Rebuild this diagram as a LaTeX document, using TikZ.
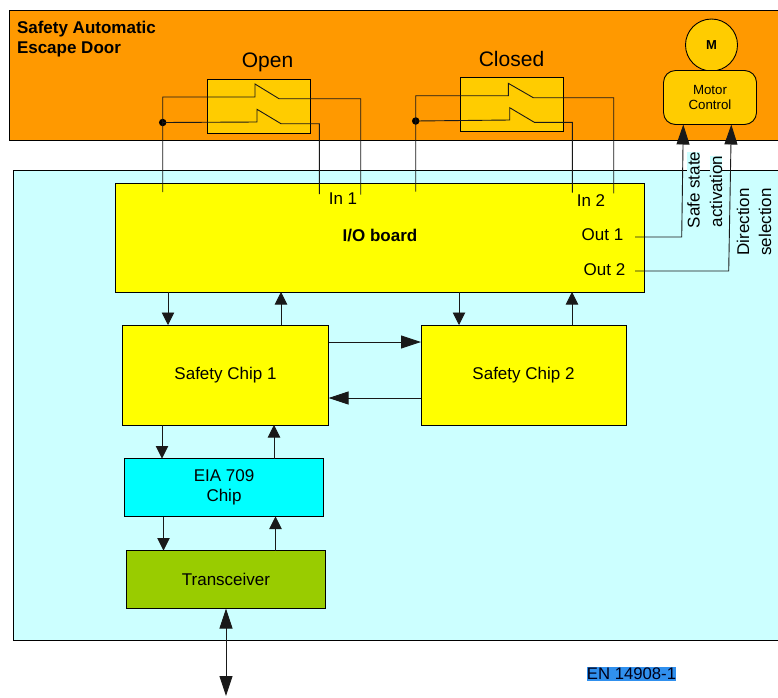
\documentclass[tikz,border=0pt]{standalone}
\usepackage{fontspec}
\setmainfont{Liberation Sans}
\usetikzlibrary{arrows.meta,calc}
\definecolor{doororange}{HTML}{FF9900}
\definecolor{panelcyan}{HTML}{CCFFFF}
\definecolor{switchfill}{HTML}{FFCC00}
\definecolor{chipcyan}{HTML}{00FFFF}
\definecolor{chipyellow}{HTML}{FFFF00}
\definecolor{trgreen}{HTML}{99CC00}
\definecolor{hlblue}{HTML}{3090EE}
\tikzset{
  blockbox/.style={draw=black,line width=0.9pt,inner sep=0pt,outer sep=0pt,align=center,font=\fontsize{17}{20}\selectfont},
  switchbox/.style={blockbox,fill=switchfill,minimum width=103pt,minimum height=54pt},
  plainlabel/.style={inner sep=0pt,outer sep=0pt,align=center,font=\fontsize{17}{20}\selectfont},
  ruled/.style={plainlabel,rotate=90},
  wire/.style={line width=0.9pt,draw=black!90},
  sig/.style={line width=0.9pt,draw=black!90,-{Triangle[length=12.5pt,width=12.5pt]}},
  bigsig/.style={line width=0.9pt,draw=black!90,-{Triangle[length=20pt,width=13pt]}},
  bigboth/.style={line width=0.9pt,draw=black!90,{Triangle[length=20pt,width=13pt]}-{Triangle[length=20pt,width=13pt]}},
  dot/.style={circle,fill=black,inner sep=0pt,minimum size=7.5pt}
}
\begin{document}
\begin{tikzpicture}[x=1pt,y=-1pt]
\useasboundingbox (0,0) rectangle (778,697);
% backgrounds
\node[blockbox,fill=doororange,minimum width=790pt,minimum height=130pt,anchor=north west] (door) at (9,10) {};
\node[blockbox,fill=panelcyan,minimum width=780pt,minimum height=470pt,anchor=north west] (panel) at (13,170) {};
\node[plainlabel,anchor=north west,font=\fontsize{17}{20.5}\selectfont\bfseries,align=left] (title) at (17,21) {Safety Automatic\\Escape Door};
% switches
\node[switchbox,anchor=north west] (swopen) at (207,79) {};
\node[switchbox,anchor=north west] (swclosed) at (460,77) {};
\node[plainlabel,font=\fontsize{21}{24}\selectfont] (openlbl) at (267.5,62) {Open};
\node[plainlabel,font=\fontsize{21}{24}\selectfont] (closedlbl) at (511.5,59) {Closed};
% motor
\node[circle,draw=black,line width=0.9pt,fill=switchfill,minimum size=52pt,inner sep=0pt,font=\fontsize{13}{15}\selectfont\bfseries] (motor) at (711.5,45) {M};
\node[blockbox,fill=switchfill,rounded corners=12pt,minimum width=93pt,minimum height=54pt,anchor=north west,font=\fontsize{13.3}{15.5}\selectfont] (mctl) at (663.5,70.5) {Motor\\Control};
% main blocks
\node[blockbox,fill=chipyellow,minimum width=529pt,minimum height=109pt,anchor=north west] (io) at (115.5,183) {};
\node[plainlabel,font=\fontsize{17}{20}\selectfont\bfseries] (iolbl) at (380,236) {I/O board};
\node[blockbox,fill=chipyellow,minimum width=206pt,minimum height=100pt,anchor=north west] (chipa) at (122.5,325) {Safety Chip 1};
\node[blockbox,fill=chipyellow,minimum width=205pt,minimum height=100pt,anchor=north west] (chipb) at (421,325) {Safety Chip 2};
\node[blockbox,fill=chipcyan,minimum width=199pt,minimum height=58pt,anchor=north west] (eia) at (124.5,458.5) {EIA 709\\Chip};
\node[blockbox,fill=trgreen,minimum width=199pt,minimum height=58pt,anchor=north west] (trans) at (126.5,550.5) {Transceiver};
% io labels
\node[plainlabel] (inone) at (343,198.5) {In 1};
\node[plainlabel] (intwo) at (591,200.5) {In 2};
\node[plainlabel] (outone) at (602.5,234.5) {Out 1};
\node[plainlabel] (outtwo) at (604.5,270) {Out 2};
% free wire ends
\coordinate (oa) at (162.7,192);
\coordinate (ob) at (319.3,194);
\coordinate (oc) at (360.7,194.7);
\coordinate (ca) at (415.7,191.7);
\coordinate (cb) at (572.3,192.7);
\coordinate (cc) at (613.7,193.3);
\node[dot] (dotopen) at (162.7,122.5) {};
\node[dot] (dotclosed) at (415.7,121) {};
% open switch wiring
\draw[wire] (oa) -- (162.7,97) -- (255,97) -- (255,84) -- (279,98.7) -- (360.7,98.7) -- (oc);
\draw[wire] (dotopen.center) -- (257,122) -- (257,109.3) -- (281,123.7) -- (319.3,123.7) -- (ob);
% closed switch wiring
\draw[wire] (ca) -- (415.7,95.7) -- (508.3,95.7) -- (508.3,83.3) -- (533.3,97.7) -- (613.7,97.7) -- (cc);
\draw[wire] (dotclosed.center) -- (509.7,120) -- (509.7,107.7) -- (534.3,122.3) -- (572.3,122.3) -- (cb);
% rotated labels
\node[ruled,fill=panelcyan] (safe) at (693.5,190) {Safe state};
\node[ruled,fill=panelcyan] (activ) at (716,191.5) {activation};
\node[ruled] (dirn) at (743,222) {Direction};
\node[ruled] (selec) at (765,222) {selection};
% outputs
\coordinate (oo) at (635,237);
\coordinate (ot) at (635,271);
\draw[bigsig] (oo) -- (681.7,237) -- (683.3,124.5);
\draw[bigsig] (ot) -- (728.7,271) -- (731.3,124.5);
% vertical signals
\coordinate (xa) at (168,0); \coordinate (xb) at (281,0);
\coordinate (xc) at (459,0); \coordinate (xd) at (572,0);
\coordinate (xe) at (162,0); \coordinate (xf) at (274,0);
\coordinate (xg) at (163.5,0); \coordinate (xh) at (275.5,0);
\coordinate (xi) at (226,0); \coordinate (busend) at (226,696);
\coordinate (ya) at (0,342); \coordinate (yb) at (0,398);
\draw[sig] (io.south -| xa) -- (chipa.north -| xa);
\draw[sig] (chipa.north -| xb) -- (io.south -| xb);
\draw[sig] (io.south -| xc) -- (chipb.north -| xc);
\draw[sig] (chipb.north -| xd) -- (io.south -| xd);
\draw[sig] (chipa.south -| xe) -- (eia.north -| xe);
\draw[sig] (eia.north -| xf) -- (chipa.south -| xf);
\draw[sig] (eia.south -| xg) -- (trans.north -| xg);
\draw[sig] (trans.north -| xh) -- (eia.south -| xh);
\draw[bigsig] (chipa.east |- ya) -- (chipb.west |- ya);
\draw[bigsig] (chipb.west |- yb) -- (chipa.east |- yb);
\draw[bigboth] (trans.south -| xi) -- (busend);
% footer
\node[plainlabel,fill=hlblue,text=black!90!blue,minimum width=89pt,minimum height=14pt,font=\fontsize{16.7}{18}\selectfont] (en) at (631.5,674) {EN 14908-1};
\end{tikzpicture}
\end{document}
